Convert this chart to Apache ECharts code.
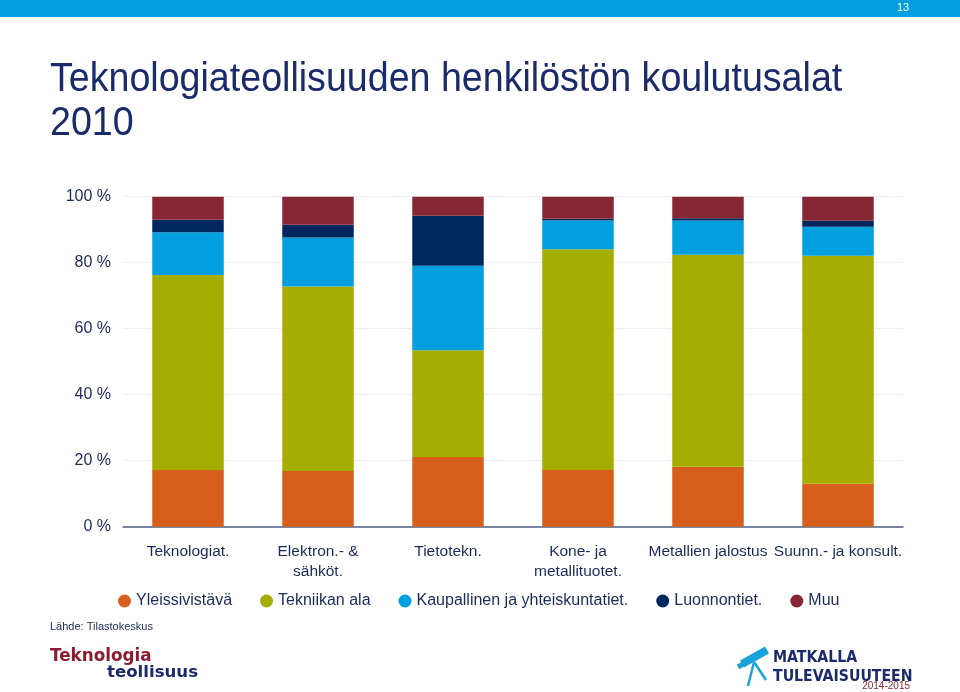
<!DOCTYPE html>
<html>
<head>
<meta charset="utf-8">
<script src="https://cdn.jsdelivr.net/npm/echarts@6/dist/echarts.min.js"></script>
<style>
html,body{margin:0;padding:0;background:#fff;}
#chart{width:960px;height:692px;}
</style>
</head>
<body>
<div id="chart"></div>
<script>
const categories = ["Teknologiat.", "Elektron.- &\nsähköt.", "Tietotekn.", "Kone- ja\nmetallituotet.", "Metallien jalostus", "Suunn.- ja konsult."];
const seriesNames = ["Yleissivistävä", "Tekniikan ala", "Kaupallinen ja yhteiskuntatiet.", "Luonnontiet.", "Muu"];
const yleissivistava = [17.2, 16.9, 21.1, 17.2, 18.2, 13.0];
const tekniikka = [59.1, 55.9, 32.4, 66.9, 64.2, 69.1];
const kaupallinen = [12.9, 14.8, 25.6, 8.7, 10.4, 8.8];
const luonnontiet = [3.8, 3.9, 15.1, 0.5, 0.7, 1.8];
const muu = [7.0, 8.5, 5.8, 6.7, 6.5, 7.3];
const yTicks = [0, 20, 40, 60, 80, 100];

const colors = ["#D65F1B", "#A5AD00", "#009FDF", "#00285F", "#872634"];
const values = [yleissivistava, tekniikka, kaupallinen, luonnontiet, muu];
const textColor = "#1B2A5C";
const font = 'Liberation Sans, Arial, sans-serif';

const chart = echarts.init(document.getElementById('chart'), null, {renderer: 'canvas'});
chart.setOption({
  animation: false,
  backgroundColor: '#ffffff',
  textStyle: {fontFamily: font},
  color: colors,
  grid: {left: 123, right: 57, top: 196.7, bottom: 165.3, containLabel: false},
  legend: {
    left: 113, top: 588,
    icon: 'circle', itemWidth: 13, itemHeight: 13, itemGap: 28,
    textStyle: {fontSize: 16, color: textColor},
    data: seriesNames
  },
  xAxis: {
    type: 'category',
    data: categories,
    axisLine: {lineStyle: {color: '#4D5F86', width: 1.5}},
    axisTick: {show: false},
    axisLabel: {interval: 0, fontSize: 15.5, color: textColor, lineHeight: 20, margin: 15}
  },
  yAxis: {
    type: 'value', min: 0, max: 100, interval: 20,
    axisLine: {show: false}, axisTick: {show: false},
    splitLine: {lineStyle: {color: '#F0F0F0', width: 1}},
    axisLabel: {fontSize: 16, color: textColor, margin: 12,
      formatter: v => yTicks.includes(v) ? v + ' %' : ''}
  },
  series: seriesNames.map((n, i) => ({
    name: n, type: 'bar', stack: 'total', barWidth: '55%',
    data: values[i], itemStyle: {color: colors[i]}
  })),
  graphic: [
    {type: 'rect', shape: {x: 0, y: 0, width: 960, height: 17}, style: {fill: '#009FDF'}},
    {type: 'text', x: 897, y: 2, style: {text: '13', fill: '#ffffff', fontSize: 11, fontFamily: font}},
    {type: 'text', x: 50, y: 60, scaleX: 0.94, style: {text: 'Teknologiateollisuuden henkilöstön koulutusalat', fill: '#1B2A6B', fontSize: 40, fontFamily: font}},
    {type: 'text', x: 50, y: 104, scaleX: 0.94, style: {text: '2010', fill: '#1B2A6B', fontSize: 40, fontFamily: font}},
    {type: 'text', x: 50, y: 621, style: {text: 'Lähde: Tilastokeskus', fill: textColor, fontSize: 11, fontFamily: font}},
    {type: 'text', x: 50, y: 648, style: {text: 'Teknologia', fill: '#8C1D30', fontSize: 16.8, fontWeight: 'bold', fontFamily: 'DejaVu Sans'}},
    {type: 'text', x: 107, y: 664, style: {text: 'teollisuus', fill: '#1B2A6B', fontSize: 16.6, fontWeight: 'bold', fontFamily: 'DejaVu Sans'}},
    {type: 'text', x: 773, y: 650, style: {text: 'MATKALLA', fill: '#1B2A6B', fontSize: 15.7, fontWeight: 'bold', fontFamily: 'DejaVu Sans Condensed, DejaVu Sans'}},
    {type: 'text', x: 773, y: 669, style: {text: 'TULEVAISUUTEEN', fill: '#1B2A6B', fontSize: 15.7, fontWeight: 'bold', fontFamily: 'DejaVu Sans Condensed, DejaVu Sans'}},
    {type: 'text', x: 910, y: 681, style: {text: '2014-2015', fill: '#872634', fontSize: 10, fontFamily: font, textAlign: 'right'}},
    {type: 'line', shape: {x1: 742, y1: 664, x2: 767, y2: 650}, style: {stroke: '#1AA3DB', lineWidth: 8}},
    {type: 'line', shape: {x1: 738, y1: 667, x2: 745, y2: 663}, style: {stroke: '#1AA3DB', lineWidth: 5}},
    {type: 'line', shape: {x1: 754, y1: 662, x2: 748, y2: 686}, style: {stroke: '#1AA3DB', lineWidth: 2.5}},
    {type: 'line', shape: {x1: 754, y1: 662, x2: 766, y2: 680}, style: {stroke: '#1AA3DB', lineWidth: 2.5}}
  ]
});
</script>
</body>
</html>
